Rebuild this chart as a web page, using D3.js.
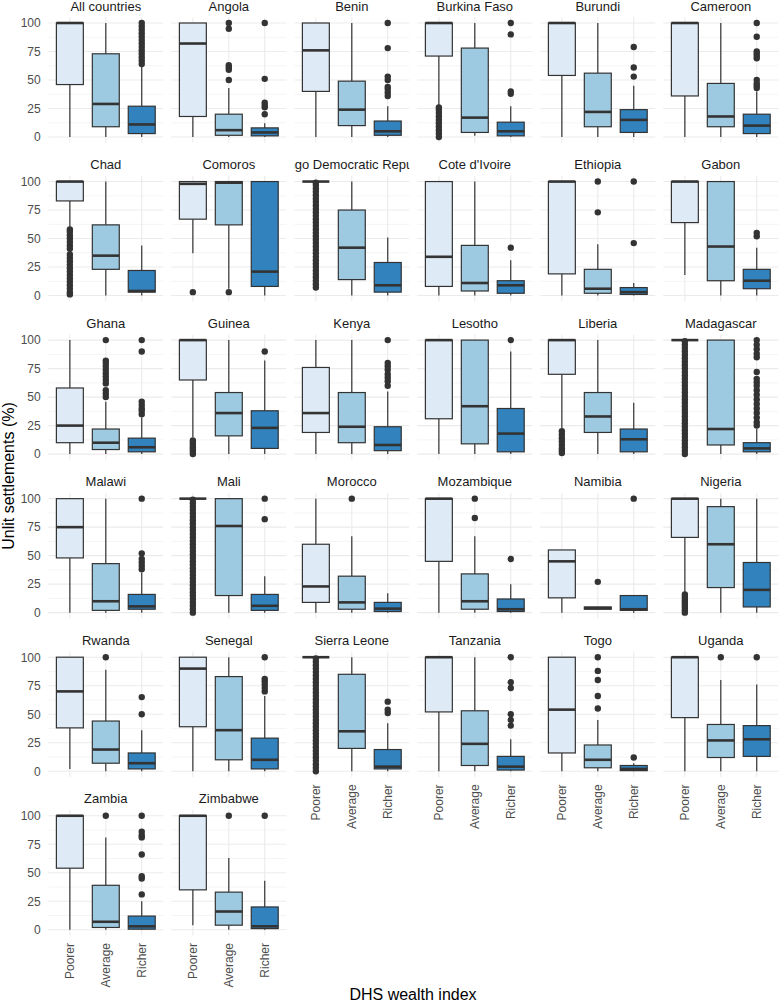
<!DOCTYPE html>
<html><head><meta charset="utf-8">
<script src="https://cdn.jsdelivr.net/npm/d3@7"></script>
<style>body{margin:0;background:#fff}svg{display:block}text{font-family:"Liberation Sans",Arial,sans-serif}</style>
</head><body>
<script>
const countries = ["All countries","Angola","Benin","Burkina Faso","Burundi","Cameroon","Chad","Comoros","Congo Democratic Republic","Cote d'Ivoire","Ethiopia","Gabon","Ghana","Guinea","Kenya","Lesotho","Liberia","Madagascar","Malawi","Mali","Morocco","Mozambique","Namibia","Nigeria","Rwanda","Senegal","Sierra Leone","Tanzania","Togo","Uganda","Zambia","Zimbabwe"];
const groups = ["Poorer","Average","Richer"];
const groupColors = ["#deebf7","#9ecae1","#3182bd"];
const yTicks = [0,25,50,75,100];
const yMinor = [12.5,37.5,62.5,87.5];

// per country: [Poorer, Average, Richer]
const whiskerLow = [[0,0,0],[0,0,0],[0,0,0],[27,1,0],[0,0,0],[0,0,0],[59,0,0],[37,6,0],[100,0,0],[0,0,0],[0,0,0],[18,0,0],[0,0,0],[15,0,0],[0,0,0],[0,0,0],[23,0,0],[100,0,0],[0,0,0],[100,0,0],[0,0,0],[0,0,0],[0,3,0],[18,0,0],[2,0,0],[0,0,0],[100,0,0],[0,0,0],[0,0,0],[0,0,0],[0,0,0],[4,0,0]];
const boxLow = [[46,9,3],[18,1.5,1],[40,10,1.5],[71,4,1],[54,9,4],[36,9,3],[83,23,3],[67,62,8],[100,14,3],[8,4,2],[19,2,1],[64,13,6],[10,4,2],[65,16,5],[19,10,3],[31,9,2],[70,19,2],[100,8,2],[48,2,3],[100,15,2],[9,3,1],[45,3,1],[13,3,2],[66,22,5],[38,7,2],[39,10,2],[100,20,2],[52,5,1],[16,3,0.5],[47,12,13],[54,2,0.5],[35,4,1]];
const medians = [[100,29,11],[82,6,4],[76,24,5],[100,17,5],[100,22,15],[100,18,10],[100,35,4],[98,99,21],[100,42,9],[34,11,9],[100,6,3],[100,43,13],[25,10,6],[100,36,23],[36,24,8],[100,42,18],[100,33,13],[100,22,5],[75,10,5.5],[100,76,6],[23,9,3.5],[100,10,3],[45,4,3],[100,60,20],[70,19,7],[90,36,10],[100,35,4],[100,24,4],[54,10,2],[100,27,28],[100,7,3],[100,16,3]];
const boxHigh = [[100,73,27],[100,20,8],[100,49,14],[100,78,13],[100,56,24],[100,47,20],[100,62,22],[100,100,100],[100,75,29],[100,44,13],[100,23,7],[100,100,23],[58,22,14],[100,54,38],[76,54,24],[100,100,40],[100,54,22],[100,100,10],[100,43,16],[100,100,16],[60,32,9],[100,34,12],[55,5,15],[100,93,44],[100,44,16],[100,83,29],[100,85,19],[100,53,13],[100,23,5],[100,41,40],[100,39,12],[100,33,20]];
const whiskerHigh = [[100,100,63],[100,43,12],[100,100,27],[100,100,27],[100,100,45],[100,100,40],[100,100,44],[100,100,100],[100,100,51],[100,100,31],[100,45,11],[100,100,42],[100,46,32],[100,100,82],[100,100,55],[100,100,90],[100,100,45],[100,100,22],[100,100,35],[100,100,32],[100,67,17],[100,67,25],[55,5,15],[100,100,100],[100,89,36],[100,100,66],[100,100,42],[100,100,28],[100,45,7],[100,80,76],[100,81,25],[100,63,43]];

const denseAll = [0,3,6,9,12,15,18,21,24,27,30,33,36,39,42,45,48,51,54,57,60,63,66,69,72,75,78,81,84,87,90,93,96,99];
const outliersPoorer = [[],[],[],[0,3,6,9,12,15,18,21,24,26],[],[],[1,3,6,9,12,15,18,21,24,27,30,33,36,41,44,47,50,53,56,58],[3],[7,10,13,16,19,22,25,28,31,34,37,40,43,46,49,52,55,58,61,64,67,70,73,76,79,82,85,88,91,94,97,99],[],[],[],[],[0,2,4,6,8,10,12],[],[],[1,3,5,8,11,14,17,20],denseAll,[],denseAll,[],[],[],[0,2,4,6,8,10,12,14,16],[],[],denseAll,[],[],[],[],[]];
const outliersAverage = [[],[50,59,61,63,95,100],[],[],[],[],[],[3],[],[],[73,100],[],[50,53,56,62,65,68,71,74,77,80,82,100],[],[],[],[],[],[],[],[100],[83,100],[27],[],[100],[],[],[],[55,66,80,88,100],[100],[100],[100]];
const outliersRicher = [[64,67,70,73,76,79,82,85,88,91,94,97,100],[20,26,28,30,51,100],[36,39,42,44,50,53,78,100],[38,40,90,100],[53,61,79],[43,45,47,50,69,71,73,75,88,100],[],[],[],[42],[46,100],[52,55],[35,38,40,43,46,90,100],[90],[60,64,67,70,74,77,80,100],[100],[],[25,28,32,36,40,44,48,52,56,60,63,66,72,85,88,92,96,100],[38,41,44,47,52,100],[82,100],[],[47],[100],[],[50,65],[70,73,76,79,81,100],[51,54,61],[40,45,50,73,78,100],[12],[100],[31,45,47,66,81,83,86,100],[100]];
const outliers = countries.map((c,i)=>[outliersPoorer[i],outliersAverage[i],outliersRicher[i]]);

const W = 779, H = 1007;
const nCols = 6;
const panelLeft0 = 48.3, colStep = 123, panelW = 115;
const panelTop0 = 17.3, rowStep = 158.55, panelH = 125.4;
const ink = "#333333";

const svg = d3.select("body").append("svg").attr("width",W).attr("height",H);
const defs = svg.append("defs");

const x = d3.scaleBand().domain(groups).range([0,panelW]).paddingInner(0.25).paddingOuter(0.225);
const yBase = d3.scaleLinear().domain([-5,105]).range([panelH,0]);

const nPanels = countries.length;
countries.forEach((name,i)=>{
  const col = i % nCols, row = Math.floor(i / nCols);
  const px = panelLeft0 + col*colStep, py = panelTop0 + row*rowStep;
  const g = svg.append("g").attr("transform",`translate(${px},${py})`);
  const y = yBase;
  // grid
  g.selectAll(".minor").data(yMinor).join("line")
    .attr("x1",0).attr("x2",panelW).attr("y1",d=>y(d)).attr("y2",d=>y(d))
    .attr("stroke","#ebebeb").attr("stroke-width",0.55);
  g.selectAll(".major").data(yTicks).join("line").attr("class","major")
    .attr("x1",0).attr("x2",panelW).attr("y1",d=>y(d)).attr("y2",d=>y(d))
    .attr("stroke","#ebebeb").attr("stroke-width",1.1);
  g.selectAll(".vgrid").data(groups).join("line").attr("class","vgrid")
    .attr("x1",d=>x(d)+x.bandwidth()/2).attr("x2",d=>x(d)+x.bandwidth()/2)
    .attr("y1",0).attr("y2",panelH).attr("stroke","#ebebeb").attr("stroke-width",1.1);

  // strip (text clipped to the strip width, as in the reference)
  const strip = g.append("g");
  const txt = strip.append("text")
    .attr("x",panelW/2).attr("y",-6.6).attr("text-anchor","middle")
    .attr("font-size",13).attr("fill","#1a1a1a").text(name);
  if(txt.node().getComputedTextLength() > panelW){
    const cid = "clip"+i;
    defs.append("clipPath").attr("id",cid).append("rect").attr("x",0).attr("y",-17).attr("width",panelW).attr("height",17);
    strip.attr("clip-path",`url(#${cid})`);
  }

  groups.forEach((grp,k)=>{
    const cx = x(grp)+x.bandwidth()/2;
    const lo = whiskerLow[i][k], q1 = boxLow[i][k], md = medians[i][k], q3 = boxHigh[i][k], hi = whiskerHigh[i][k];
    const bg = g.append("g");
    bg.append("line").attr("x1",cx).attr("x2",cx).attr("y1",y(q3)).attr("y2",y(hi)).attr("stroke",ink).attr("stroke-width",1.2);
    bg.append("line").attr("x1",cx).attr("x2",cx).attr("y1",y(q1)).attr("y2",y(lo)).attr("stroke",ink).attr("stroke-width",1.2);
    bg.append("rect").attr("x",x(grp)).attr("width",x.bandwidth())
      .attr("y",y(q3)).attr("height",Math.max(0,y(q1)-y(q3)))
      .attr("fill",groupColors[k]).attr("stroke",ink).attr("stroke-width",1.2);
    bg.append("line").attr("x1",x(grp)).attr("x2",x(grp)+x.bandwidth()).attr("y1",y(md)).attr("y2",y(md))
      .attr("stroke",ink).attr("stroke-width",2.6);
    bg.selectAll("circle").data(outliers[i][k]).join("circle")
      .attr("cx",cx).attr("cy",d=>y(d)).attr("r",3.2).attr("fill",ink);
  });

  if(col===0){
    const ax = g.append("g").call(d3.axisLeft(y).tickValues(yTicks).tickSize(0).tickPadding(7.6));
    ax.select(".domain").remove();
    ax.selectAll("text").attr("font-size",12).attr("fill","#4d4d4d").style("font-family","'Liberation Sans',Arial,sans-serif");
  }
  if(i + nCols >= nPanels){
    const ax = g.append("g").attr("transform",`translate(0,${panelH})`).call(d3.axisBottom(x).tickSize(0).tickPadding(0));
    ax.select(".domain").remove();
    ax.selectAll("text").attr("font-size",12).attr("fill","#4d4d4d").style("font-family","'Liberation Sans',Arial,sans-serif")
      .attr("text-anchor","end").attr("transform","translate(0,7.5) rotate(-90)").attr("x",0).attr("y",0).attr("dy","0.35em");
  }
});

svg.append("text").attr("transform","translate(13.5,476) rotate(-90)").attr("text-anchor","middle")
  .attr("font-size",16).attr("fill","#000").text("Unlit settlements (%)");
svg.append("text").attr("x",413).attr("y",1000).attr("text-anchor","middle")
  .attr("font-size",16).attr("fill","#000").text("DHS wealth index");
</script>
</body></html>
